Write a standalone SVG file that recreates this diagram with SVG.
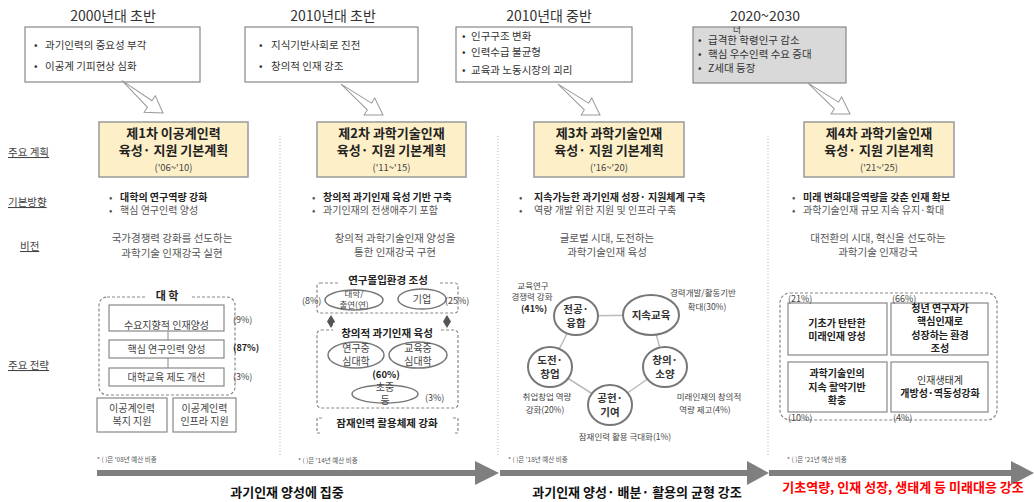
<svg xmlns="http://www.w3.org/2000/svg" width="1034" height="502" viewBox="0 0 1034 502">
<defs>
<style>
text{font-family:"Noto Sans CJK KR","Noto Sans",sans-serif;fill:#333}
.era{font-size:14px;text-anchor:middle;fill:#333}
.bx{fill:#fff;stroke:#888;stroke-width:1.2}
.bxg{fill:#d9d9d9;stroke:#888;stroke-width:1.2}
.t11{font-size:10.5px;fill:#333}
.plan{fill:#fdf0c8;stroke:#999;stroke-width:1.5}
.pt{font-size:13px;font-weight:bold;text-anchor:middle;fill:#222}
.py{font-size:9.5px;text-anchor:middle;fill:#444}
.lbl{font-size:10.5px;fill:#444;text-decoration:underline}
.dir{font-size:10px;fill:#555}
.dirb{font-size:10px;fill:#222;font-weight:bold}
.vis{font-size:10.5px;text-anchor:middle;fill:#555}
.harrow{fill:#fff;stroke:#999;stroke-width:1}
.div{stroke:#bbb;stroke-width:1;stroke-dasharray:1 2}
.dash{fill:none;stroke:#888;stroke-width:1.2;stroke-dasharray:3 2}
.sb{fill:#fff;stroke:#888;stroke-width:1.2}
.st{font-size:10px;text-anchor:middle;fill:#444}
.stb{font-size:10.5px;text-anchor:middle;fill:#222;font-weight:bold}
.cb{font-size:10.5px;text-anchor:middle;fill:#333;font-weight:bold}
.c4{font-size:10px;text-anchor:middle;fill:#222;font-weight:bold}
.pct{font-size:9px;fill:#444}
.sl{font-size:8.5px;text-anchor:middle;fill:#444}
.fn{font-size:6.5px;fill:#555}
.el{fill:#fff;stroke:#777;stroke-width:1.5}
.el3{fill:#fff;stroke:#777;stroke-width:2}
.cl{stroke:#bbb;stroke-width:1.5}
.bar{stroke:#7f7f7f;stroke-width:6}
.head{fill:#7f7f7f}
.bt{font-size:13px;font-weight:bold;text-anchor:middle;fill:#111}
.wh{fill:#fff}
</style>
<path id="ha" d="M0,-4 L36,-4 L36,-10 L52,0 L36,10 L36,4 Z"/>
</defs>
<rect width="1034" height="502" fill="#fff"/>

<g id="eras">
<text class="era" x="113" y="21">2000년대 초반</text>
<text class="era" x="333" y="21">2010년대 초반</text>
<text class="era" x="549" y="21">2010년대 중반</text>
<text class="era" x="765" y="21">2020~2030</text>
</g>

<g id="ctx1">
<rect class="bx" x="25" y="27" width="175" height="55"/>
<text class="t11" x="34" y="49">•</text><text class="t11" x="45" y="49">과기인력의 중요성 부각</text>
<text class="t11" x="34" y="70">•</text><text class="t11" x="45" y="70">이공계 기피현상 심화</text>
</g>
<g id="ctx2">
<rect class="bx" x="245" y="27" width="173" height="55"/>
<text class="t11" x="259" y="49">•</text><text class="t11" x="271" y="49">지식기반사회로 진전</text>
<text class="t11" x="259" y="70">•</text><text class="t11" x="271" y="70">창의적 인재 강조</text>
</g>
<g id="ctx3">
<rect class="bx" x="456" y="27" width="176" height="55"/>
<text class="t11" x="462" y="40">•</text><text class="t11" x="471" y="40">인구구조 변화</text>
<text class="t11" x="462" y="56">•</text><text class="t11" x="471" y="56">인력수급 불균형</text>
<text class="t11" x="462" y="74">•</text><text class="t11" x="471" y="74">교육과 노동시장의 괴리</text>
</g>
<g id="ctx4">
<rect class="bxg" x="693" y="27" width="153" height="56"/>
<text x="737" y="33" style="font-size:8.5px;text-anchor:middle;fill:#333">너</text>
<text class="t11" x="698" y="44">•</text><text class="t11" x="708" y="44">급격한 학령인구 감소</text>
<text class="t11" x="698" y="58">•</text><text class="t11" x="708" y="58">핵심 우수인력 수요 증대</text>
<text class="t11" x="698" y="72">•</text><text class="t11" x="708" y="72">Z세대 등장</text>
</g>

<g id="rowlabels">
<text class="lbl" x="8" y="156">주요 계획</text>
<text class="lbl" x="8" y="206">기본방향</text>
<text class="lbl" x="20" y="250">비전</text>
<text class="lbl" x="8" y="369">주요 전략</text>
</g>

<g id="connectors">
<use href="#ha" class="harrow" transform="translate(163,113) rotate(34) translate(-52,0)"/>
<use href="#ha" class="harrow" transform="translate(383,115) rotate(32) translate(-52,0)"/>
<use href="#ha" class="harrow" transform="translate(600,115) rotate(32) translate(-52,0)"/>
<use href="#ha" class="harrow" transform="translate(850,114) rotate(32) translate(-52,0)"/>
<line class="div" x1="280" y1="136" x2="280" y2="457"/>
<line class="div" x1="498" y1="136" x2="498" y2="457"/>
<line class="div" x1="768" y1="136" x2="768" y2="457"/>
<line x1="168" y1="331" x2="168" y2="340" stroke="#888" stroke-width="1"/>
<line x1="168" y1="358" x2="168" y2="368" stroke="#888" stroke-width="1"/>
<polygon points="331,315 335,321.5 331,328 327,321.5" fill="#555"/>
<polygon points="447,315 451,321.5 447,328 443,321.5" fill="#555"/>
<line class="cl" x1="576" y1="316" x2="651" y2="315"/>
<line class="cl" x1="651" y1="315" x2="665" y2="367"/>
<line class="cl" x1="665" y1="367" x2="610" y2="405"/>
<line class="cl" x1="610" y1="405" x2="550" y2="367"/>
<line class="cl" x1="550" y1="367" x2="576" y2="316"/>
<line class="bar" x1="97" y1="473" x2="478" y2="473"/>
<polygon class="head" points="475,461 499,473 475,485"/>
<line class="bar" x1="500" y1="473" x2="750" y2="473"/>
<polygon class="head" points="747,461 769,473 747,485"/>
<line class="bar" x1="769" y1="473" x2="1014" y2="473"/>
<polygon class="head" points="1011,461 1034,473 1011,485"/>
</g>

<g id="plan1">
<rect class="plan" x="99" y="122" width="149" height="55"/>
<text class="pt" x="173.5" y="138">제1차 이공계인력</text>
<text class="pt" x="173.5" y="155">육성·  지원 기본계획</text>
<text class="py" x="173.5" y="171">('06~'10)</text>
</g>
<g id="plan2">
<rect class="plan" x="317" y="122" width="149" height="55"/>
<text class="pt" x="391.5" y="138">제2차 과학기술인재</text>
<text class="pt" x="391.5" y="155">육성·  지원 기본계획</text>
<text class="py" x="391.5" y="171">('11~'15)</text>
</g>
<g id="plan3">
<rect class="plan" x="534" y="122" width="150" height="55"/>
<text class="pt" x="609" y="138">제3차 과학기술인재</text>
<text class="pt" x="609" y="155">육성·  지원 기본계획</text>
<text class="py" x="609" y="171">('16~'20)</text>
</g>
<g id="plan4">
<rect class="plan" x="804" y="122" width="150" height="55"/>
<text class="pt" x="879" y="138">제4차 과학기술인재</text>
<text class="pt" x="879" y="155">육성·  지원 기본계획</text>
<text class="py" x="879" y="171">('21~'25)</text>
</g>

<g id="dir1">
<text class="dir" x="109" y="201">•</text><text class="dirb" x="120" y="201">대학의 연구역량 강화</text>
<text class="dir" x="109" y="214">•</text><text class="dir" x="120" y="214">핵심 연구인력 양성</text>
<text class="vis" x="172" y="242">국가경쟁력 강화를 선도하는</text>
<text class="vis" x="172" y="257">과학기술 인재강국 실현</text>
</g>
<g id="dir2">
<text class="dir" x="312" y="201">•</text><text class="dirb" x="323" y="201">창의적 과기인재 육성 기반 구축</text>
<text class="dir" x="312" y="214">•</text><text class="dir" x="323" y="214">과기인재의 전생애주기 포함</text>
<text class="vis" x="395" y="242">창의적 과학기술인재 양성을</text>
<text class="vis" x="395" y="256">통한 인재강국 구현</text>
</g>
<g id="dir3">
<text class="dir" x="519" y="201">•</text><text class="dirb" x="534" y="201">지속가능한 과기인재 성장·  지원체계 구축</text>
<text class="dir" x="519" y="214">•</text><text class="dir" x="534" y="214">역량 개발 위한 지원 및 인프라 구축</text>
<text class="vis" x="607" y="242">글로벌 시대, 도전하는</text>
<text class="vis" x="607" y="256">과학기술인재 육성</text>
</g>
<g id="dir4">
<text class="dir" x="792" y="201">•</text><text class="dirb" x="803" y="201">미래 변화대응역량을 갖춘 인재 확보</text>
<text class="dir" x="792" y="214">•</text><text class="dir" x="803" y="214">과학기술인재 규모 지속 유지·확대</text>
<text class="vis" x="878" y="242">대전환의 시대, 혁신을 선도하는</text>
<text class="vis" x="878" y="256">과학기술 인재강국</text>
</g>

<g id="strat1">
<rect class="dash" x="99" y="297" width="136" height="98" rx="8"/>
<rect class="wh" x="145" y="290" width="45" height="12"/>
<text class="stb" x="167" y="300" style="font-size:11px">대 학</text>
<rect class="sb" x="109" y="305" width="115" height="26"/>
<text class="st" x="166.5" y="329">수요지향적 인재양성</text>
<rect class="sb" x="109" y="340" width="115" height="18"/>
<text class="st" x="166.5" y="352.5">핵심 연구인력 양성</text>
<rect class="sb" x="109" y="368" width="115" height="18"/>
<text class="st" x="166.5" y="380.5">대학교육 제도 개선</text>
<text class="pct" x="233" y="323">(9%)</text>
<text class="pct" x="233" y="351" style="font-weight:bold;fill:#222">(87%)</text>
<text class="pct" x="233" y="380">(3%)</text>
<rect class="sb" x="97" y="398" width="70" height="34"/>
<text class="st" x="132" y="412">이공계인력</text>
<text class="st" x="132" y="425">복지 지원</text>
<rect class="sb" x="173" y="398" width="63" height="34"/>
<text class="st" x="204.5" y="412">이공계인력</text>
<text class="st" x="204.5" y="425">인프라 지원</text>
<text class="fn" x="97" y="462">* ( )은 '08년 예산 비중</text>
</g>

<g id="strat2">
<rect class="dash" x="317" y="283" width="141" height="30" rx="3"/>
<rect class="wh" x="338" y="276" width="100" height="12"/>
<text class="stb" x="388" y="284">연구몰입환경 조성</text>
<ellipse class="el" cx="354" cy="300" rx="29" ry="10"/>
<text class="st" x="354" y="297" style="font-size:8.5px">대학/</text>
<text class="st" x="354" y="308" style="font-size:8.5px">출연(연)</text>
<ellipse class="el" cx="422" cy="299" rx="24" ry="10"/>
<text class="st" x="422" y="303">기업</text>
<text class="pct" x="302" y="304">(8%)</text>
<text class="pct" x="445" y="304">(25%)</text>
<rect class="dash" x="317" y="330" width="141" height="78" rx="4"/>
<rect class="wh" x="333" y="323" width="106" height="13"/>
<text class="stb" x="387" y="337">창의적 과기인재 육성</text>
<ellipse class="el" cx="356" cy="355" rx="28" ry="13"/>
<text class="st" x="356" y="352">연구중</text>
<text class="st" x="356" y="365">심대학</text>
<ellipse class="el" cx="418" cy="355" rx="29" ry="13"/>
<text class="st" x="418" y="352">교육중</text>
<text class="st" x="418" y="365">심대학</text>
<text class="stb" x="386" y="378" style="font-size:9.5px">(60%)</text>
<ellipse class="el" cx="385" cy="394" rx="33" ry="9"/>
<text class="st" x="385" y="391">초중</text>
<text class="st" x="385" y="404">등</text>
<text class="pct" x="425" y="401">(3%)</text>
<path class="dash" d="M322,418 H317 V433 H322"/>
<path class="dash" d="M453,418 H458 V433 H453"/>
<text class="stb" x="387" y="427">잠재인력 활용체제 강화</text>
<text class="fn" x="298" y="463">* ( )은 '14년 예산 비중</text>
</g>

<g id="strat3">
<ellipse class="el3" cx="576" cy="316" rx="22" ry="19"/>
<text class="cb" x="576" y="313">전공·</text>
<text class="cb" x="576" y="327">융합</text>
<ellipse class="el3" cx="651" cy="315" rx="28" ry="20"/>
<text class="cb" x="651" y="319">지속교육</text>
<ellipse class="el3" cx="550" cy="367" rx="22" ry="20"/>
<text class="cb" x="550" y="364">도전·</text>
<text class="cb" x="550" y="378">창업</text>
<ellipse class="el3" cx="665" cy="367" rx="22" ry="20"/>
<text class="cb" x="665" y="364">창의·</text>
<text class="cb" x="665" y="378">소양</text>
<ellipse class="el3" cx="610" cy="405" rx="22" ry="20"/>
<text class="cb" x="610" y="402">공헌·</text>
<text class="cb" x="610" y="416">기여</text>
<text class="sl" x="533" y="289">교육연구</text>
<text class="sl" x="532" y="300">경쟁력 강화</text>
<text class="sl" x="534" y="312" style="font-weight:bold;fill:#222;font-size:9px">(41%)</text>
<text class="sl" x="703" y="296">경력개발/활동기반</text>
<text class="sl" x="707" y="310">확대(30%)</text>
<text class="sl" x="547" y="400">취업창업 역량</text>
<text class="sl" x="545" y="413">강화(20%)</text>
<text class="sl" x="709" y="400">미래인재의 창의적</text>
<text class="sl" x="705" y="413">역량 제고(4%)</text>
<text class="sl" x="625" y="440">잠재인력 활용 극대화(1%)</text>
<text class="fn" x="508" y="462">* ( )은 '18년 예산 비중</text>
</g>

<g id="strat4">
<rect class="dash" x="780" y="293" width="217" height="127" rx="10"/>
<rect class="sb" x="788" y="303" width="99" height="52"/>
<text class="c4" x="837" y="327">기초가 탄탄한</text>
<text class="c4" x="837" y="340">미래인재 양성</text>
<rect class="sb" x="891" y="303" width="97" height="52"/>
<text class="c4" x="940" y="312">청년 연구자가</text>
<text class="c4" x="940" y="325">핵심인재로</text>
<text class="c4" x="940" y="339">성장하는 환경</text>
<text class="c4" x="940" y="352">조성</text>
<rect class="sb" x="788" y="362" width="99" height="50"/>
<text class="c4" x="837" y="377">과학기술인의</text>
<text class="c4" x="837" y="391">지속 활약기반</text>
<text class="c4" x="837" y="404">확충</text>
<rect class="sb" x="891" y="362" width="97" height="50"/>
<text class="c4" x="940" y="384" style="font-weight:normal;fill:#333">인재생태계</text>
<text class="c4" x="940" y="397">개방성·역동성강화</text>
<text class="pct" x="788" y="302">(21%)</text>
<text class="pct" x="892" y="302">(66%)</text>
<text class="pct" x="788" y="421">(10%)</text>
<text class="pct" x="893" y="421">(4%)</text>
<text class="fn" x="787" y="462">* ( )은 '21년 예산 비중</text>
</g>

<g id="bottom">
<text class="bt" x="287" y="497">과기인재 양성에 집중</text>
<text class="bt" x="637" y="497">과기인재 양성·  배분·  활용의 균형 강조</text>
<text class="bt" x="903" y="492" style="fill:#ff0000">기초역량, 인재 성장, 생태계 등 미래대응 강조</text>
</g>
</svg>
